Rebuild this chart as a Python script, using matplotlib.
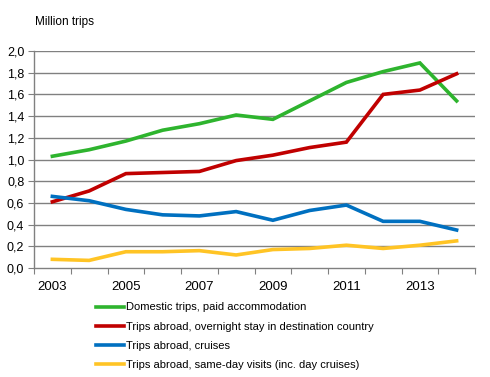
import numpy as np
import matplotlib.pyplot as plt
from matplotlib.lines import Line2D

plt.rcParams['font.family'] = ['Liberation Sans', 'DejaVu Sans']

# Datos (millones de viajes)
years = np.arange(2003, 2015)
domestic = [1.03, 1.09, 1.17, 1.27, 1.33, 1.41, 1.37, 1.54, 1.71, 1.81, 1.89, 1.54]
overnight = [0.61, 0.71, 0.87, 0.88, 0.89, 0.99, 1.04, 1.11, 1.16, 1.60, 1.64, 1.79]
cruises = [0.66, 0.62, 0.54, 0.49, 0.48, 0.52, 0.44, 0.53, 0.58, 0.43, 0.43, 0.35]
sameday = [0.08, 0.07, 0.15, 0.15, 0.16, 0.12, 0.17, 0.18, 0.21, 0.18, 0.21, 0.25]

labels = ['Domestic trips, paid accommodation',
          'Trips abroad, overnight stay in destination country',
          'Trips abroad, cruises',
          'Trips abroad, same-day visits (inc. day cruises)']
colors = ['#2EB42E', '#C00000', '#0070C0', '#FFC425']
series = [domestic, overnight, cruises, sameday]

fig = plt.figure(figsize=(4.9, 3.77), dpi=100)
ax = fig.add_axes([34/490, 1 - 268/377, 441/490, 217/377])

x = np.arange(len(years))
for vals, col, lab in zip(series, colors, labels):
    ax.plot(x, vals, color=col, lw=2.6, label=lab, solid_joinstyle='miter')

grid_col = '#808080'
ax.set_xlim(-0.5, len(years) - 0.5)
ax.set_ylim(0, 2.0)
yt = np.arange(0, 2.01, 0.2)
ax.set_yticks(yt)
ax.set_yticklabels([f'{v:.1f}'.replace('.', ',') for v in yt], fontsize=9)
for v in yt[1:]:
    ax.axhline(v, color=grid_col, lw=1, zorder=0)

# ticks en los límites de categorías, etiquetas cada dos años
ax.set_xticks(np.arange(-0.5, len(years), 1))
ax.set_xticklabels([])
ax.set_xticks(x[::2], minor=True)
ax.set_xticklabels([str(y) for y in years[::2]], minor=True, fontsize=9.5)
ax.tick_params(axis='x', which='minor', length=0, pad=9)
ax.tick_params(axis='x', which='major', length=4, color=grid_col, direction='out')
ax.tick_params(axis='y', length=4, color=grid_col, direction='out', pad=3)

for s in ['top', 'right']:
    ax.spines[s].set_visible(False)
for s in ['left', 'bottom']:
    ax.spines[s].set_color(grid_col)
    ax.spines[s].set_linewidth(1)

fig.text(35/490, 1 - 22/377, 'Million trips', fontsize=8.5, va='center')

handles = [Line2D([0], [0], color=c, lw=2.6) for c in colors]
fig.legend(handles, labels, loc='upper left', bbox_to_anchor=(92/490, 1 - 298/377),
           frameon=False, fontsize=8, handlelength=2.5, handletextpad=0.2,
           labelspacing=0.82, borderaxespad=0)

fig.savefig('out.png', dpi=100)
